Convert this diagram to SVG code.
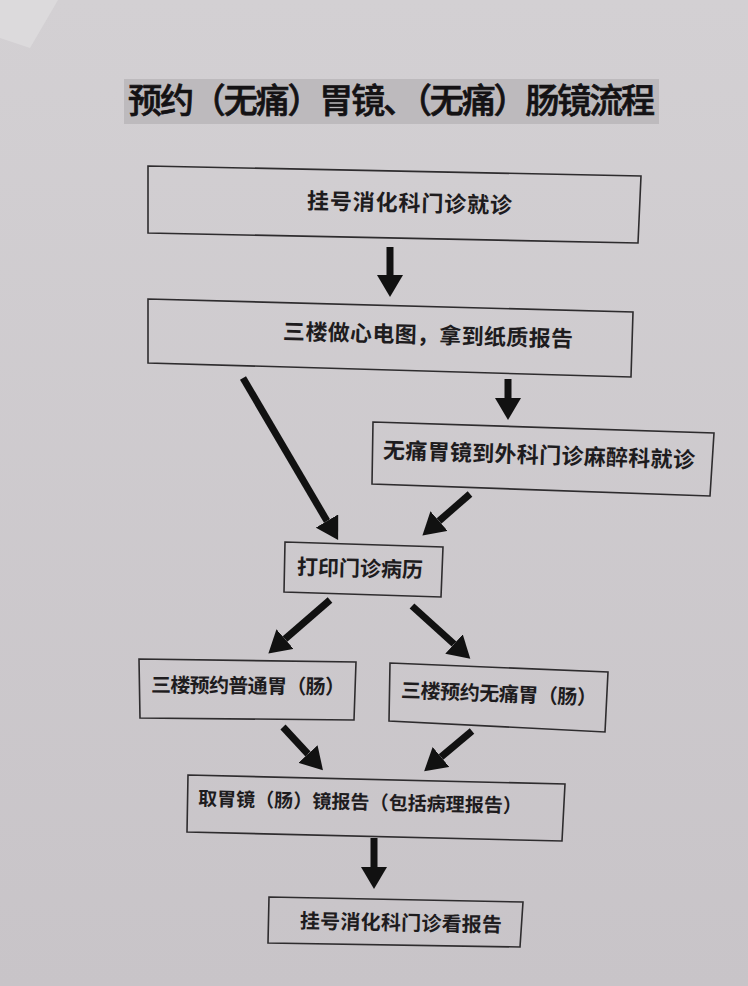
<svg xmlns="http://www.w3.org/2000/svg" width="748" height="986" viewBox="0 0 748 986">
<defs>
<linearGradient id="bg" x1="0" y1="0" x2="0" y2="1">
<stop offset="0" stop-color="#d3d0d3"/>
<stop offset="1" stop-color="#c8c4c8"/>
</linearGradient>
<marker id="ah" markerUnits="userSpaceOnUse" markerWidth="22" markerHeight="26" viewBox="0 0 22 26" refX="0" refY="13" orient="auto">
<path d="M0,0 L22,13 L0,26 Z" fill="#111"/>
</marker>
<style>
.box{fill:none;stroke:#2e2c2e;stroke-width:1.6}
.t{font-family:"Noto Sans CJK SC","Noto Sans",sans-serif;font-weight:bold;fill:#1e1c1e}
.title{font-family:"Noto Sans CJK SC","Noto Sans",sans-serif;font-weight:500;fill:#141214;stroke:#141214;stroke-width:0.7}
.ar{stroke:#111;stroke-width:7;fill:none;marker-end:url(#ah)}
</style>
</defs>
<rect width="748" height="986" fill="url(#bg)"/>
<polygon points="0,0 58,0 30,48 0,38" fill="#dcdadc"/>
<g id="title">
<rect x="124" y="79" width="535" height="45" fill="#bdbabd"/>
<text class="title" x="128" y="113" font-size="34" textLength="527" lengthAdjust="spacing">预约（无痛）胃镜、（无痛）肠镜流程</text>
</g>
<g id="connectors">
<line class="ar" x1="390" y1="247" x2="390" y2="275"/>
<line class="ar" x1="243" y1="378" x2="327" y2="521"/>
<line class="ar" x1="508" y1="379" x2="508" y2="398"/>
<line class="ar" x1="470" y1="494" x2="439" y2="521"/>
<line class="ar" x1="330" y1="600" x2="285" y2="639"/>
<line class="ar" x1="412" y1="606" x2="454" y2="644"/>
<line class="ar" x1="283" y1="727" x2="308" y2="754"/>
<line class="ar" x1="472" y1="731" x2="441" y2="757"/>
<line class="ar" x1="374" y1="838" x2="374" y2="867"/>
</g>
<g id="n1">
<polygon class="box" points="148,166 641,176 638,243 148,233"/>
<text class="t" x="307" y="211" font-size="22" textLength="205" lengthAdjust="spacing" transform="rotate(1.2 410 203)">挂号消化科门诊就诊</text>
</g>
<g id="n2">
<polygon class="box" points="148,299 633,312 631,377 148,363"/>
<text class="t" x="283" y="343" font-size="22" textLength="290" lengthAdjust="spacing" transform="rotate(1.5 428 335)">三楼做心电图，拿到纸质报告</text>
</g>
<g id="n3">
<polygon class="box" points="373,422 714,433 710,496 372,484"/>
<text class="t" x="383" y="463" font-size="22" textLength="312" lengthAdjust="spacing" transform="rotate(1.8 539 455)">无痛胃镜到外科门诊麻醉科就诊</text>
</g>
<g id="n4">
<polygon class="box" points="285,542 443,547 441,597 284,592"/>
<text class="t" x="297" y="576" font-size="21" textLength="126" lengthAdjust="spacing" transform="rotate(1.5 360 568)">打印门诊病历</text>
</g>
<g id="n5">
<polygon class="box" points="139,659 356,662 354,720 140,718"/>
<text class="t" x="151" y="693" font-size="20" textLength="194" lengthAdjust="spacing" transform="rotate(0.6 248 685)">三楼预约普通胃（肠）</text>
</g>
<g id="n6">
<polygon class="box" points="390,663 608,672 605,732 389,721"/>
<text class="t" x="401" y="701" font-size="20" textLength="196" lengthAdjust="spacing" transform="rotate(2.2 499 693)">三楼预约无痛胃（肠）</text>
</g>
<g id="n7">
<polygon class="box" points="188,775 565,784 562,841 187,832"/>
<text class="t" x="198" y="809" font-size="19" textLength="324" lengthAdjust="spacing" transform="rotate(1.3 360 802)">取胃镜（肠）镜报告（包括病理报告）</text>
</g>
<g id="n8">
<polygon class="box" points="269,897 523,902 520,947 268,943"/>
<text class="t" x="300" y="930" font-size="20" textLength="202" lengthAdjust="spacing" transform="rotate(1.1 401 922)">挂号消化科门诊看报告</text>
</g>
</svg>
